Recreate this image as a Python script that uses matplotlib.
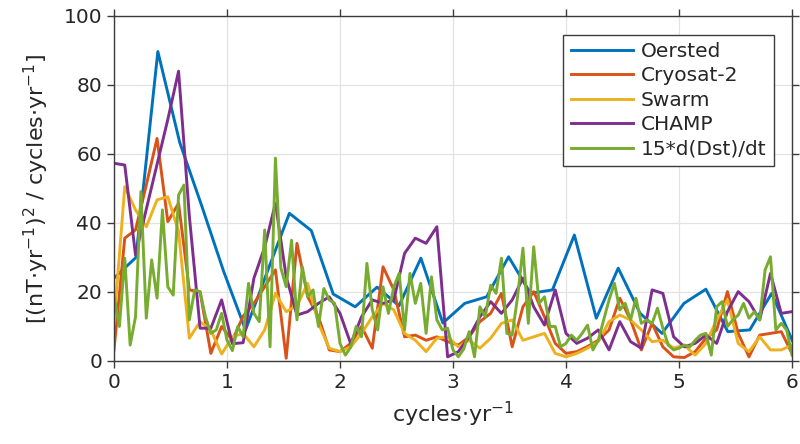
import numpy as np
import matplotlib
matplotlib.use("Agg")
import matplotlib.pyplot as plt

# power spectra of secular-variation residuals, read per mission
oersted_df = 0.194
oersted = [24, 30, 89.7, 63.3, 45, 26, 9, 26, 42.8, 37.8, 19.4, 15.7, 21.4, 16,
           29.8, 11, 16.7, 18.6, 30.2, 19.6, 20.6, 36.5, 12.4, 26.9, 13.8, 8,
           16.7, 20.8, 8.5, 9, 19.6, 5.1]

cryosat = [3.2, 35.6, 38, 51, 64.5, 40.4, 45.7, 20.6, 20, 2.2, 10, 6, 13, 16.7,
           21.5, 26.4, 0.8, 34.1, 18.6, 12.8, 3.2, 2.7, 5.1, 10, 3.7, 27.3, 20.6,
           7, 7.5, 6, 7, 5.6, 4.6, 7, 11.4, 13.8, 19.6, 4.1, 15.7, 20.1, 12.8,
           5.1, 2.2, 2.7, 4.2, 6, 9, 18.2, 11.9, 3.2, 10.9, 4.1, 1.2, 1, 2.7,
           6.6, 9, 20.1, 8, 1.2, 7.5, 8, 8.5, 2.2]

swarm = [10.9, 50.5, 43.8, 38.9, 46.7, 47.6, 37.5, 6.6, 11.4, 9, 2, 7, 8, 4.1,
         9, 19.6, 14.3, 16, 22.5, 10.9, 3.7, 2.7, 4.1, 8, 12.8, 16.7, 14.8, 8,
         6, 2.7, 6.6, 7, 4.1, 6, 3.7, 6.6, 10.9, 11.9, 6, 7, 8, 2.2, 1.2, 2.2,
         3.7, 5.6, 11.4, 13.3, 11.9, 9, 5.6, 6, 3.7, 4.6, 1.7, 5.1, 11.9, 17.7,
         5.1, 2.7, 7, 3.2, 3.2, 4.6]

champ = [57.3, 56.8, 30.7, 44, 57, 70, 84, 42, 9.5, 9.5, 17.7, 5, 5.3, 24, 33,
         45.7, 24.4, 13.3, 14.3, 16.7, 18.6, 13.8, 5, 12.8, 17.7, 16.7, 17.7,
         31.2, 35.6, 34.1, 38.9, 1.2, 2.7, 7, 12.8, 17.2, 13.8, 17.7, 24, 15.7,
         10.4, 20.6, 8, 5.1, 6.6, 9, 3.2, 11.4, 5.6, 3.7, 20.6, 19.6, 7, 4.1,
         5.1, 7.5, 5.1, 14.3, 20.1, 17.2, 11.9, 25.4, 13.8, 14.3]

# 15 * d(Dst)/dt
dst = [18.6, 10, 29.8, 4.6, 12.8, 49.1, 12.4, 29.3, 18.2, 43.8, 21.5, 19.1,
       48.1, 51, 11.9, 20.6, 20.1, 12.8, 8, 9, 13.8, 6, 3,
       10, 7, 22.5, 13.8, 11.4, 38, 4.1, 58.8, 27, 21.5,
       35, 11.9, 27.3, 18.6, 20.6, 10, 21, 17.7, 16.7, 5.1,
       1.7, 4, 10, 7, 28.3, 14.8, 9, 21.5, 13.8, 21.5,
       25.4, 9, 25.4, 16.7, 22.5, 8, 24.4, 11.9, 9, 9.5,
       3.2, 1.2, 3.5, 8.5, 1.2, 15.7, 12.8, 22, 19.6, 29.8,
       8, 7.5, 18.6, 32.7, 10.9, 33.1, 16.7, 18.6, 10, 10,
       4.1, 5.1, 7.5, 6, 8, 10.4, 3.2, 6, 11.9, 17.7,
       22.5, 14.8, 16.7, 11.9, 18.2, 10.9, 11.9, 10.9, 15.3, 9.5,
       4.6, 3.2, 3.7, 4.6, 4.1, 6, 7.5, 8, 1.7, 15.7,
       17.2, 10, 11.9, 13.3, 16.7, 12.4, 14.3, 11.9, 26.4, 30.2,
       9, 10.9, 9, 1.7]

f_oer = np.arange(len(oersted)) * oersted_df
f_sat = np.linspace(0, 6, len(champ))
f_dst = np.linspace(0, 6, len(dst))

series = [
    ("Oersted", f_oer, oersted, "#0072BD"),
    ("Cryosat-2", f_sat, cryosat, "#D95319"),
    ("Swarm", f_sat, swarm, "#EDB120"),
    ("CHAMP", f_sat, champ, "#7E2F8E"),
    ("15*d(Dst)/dt", f_dst, dst, "#77AC30"),
]

txt = "#262626"
plt.rcParams["font.family"] = ["DejaVu Sans"]

fig = plt.figure(figsize=(8, 4.44), dpi=100)
ax = fig.add_axes([0.1425, 0.187, 0.8475, 0.777])

for name, f, p, c in series:
    ax.plot(f, p, color=c, lw=2.1, label=name)

ax.set_xlim(0, 6)
ax.set_ylim(0, 100)
ax.set_xticks(range(7))
ax.set_yticks(range(0, 101, 20))
ax.grid(True, color="#e3e3e3", lw=0.9)
ax.set_axisbelow(True)

for s in ax.spines.values():
    s.set_color("#3c3c3c")
    s.set_linewidth(1.0)
ax.tick_params(direction="out", length=5, width=1, color="#3c3c3c",
               labelsize=14.5, labelcolor=txt, top=True, right=True)

ax.set_xlabel(r"cycles$\cdot$yr$^{\mathregular{-1}}$", fontsize=16, color=txt, labelpad=6)
ax.set_ylabel(r"[(nT$\cdot$yr$^{\mathregular{-1}}$)$^{\mathregular{2}}$ / cycles$\cdot$yr$^{\mathregular{-1}}$]",
              fontsize=16, color=txt, labelpad=9)

leg = ax.legend(loc="upper right", bbox_to_anchor=(0.973, 0.945), borderaxespad=0,
                fontsize=14.5, handlelength=3.1, handletextpad=0.4, labelspacing=0.27,
                fancybox=False, framealpha=1, edgecolor="#3c3c3c", borderpad=0.35)
leg.get_frame().set_linewidth(1.0)
for t in leg.get_texts():
    t.set_color(txt)

fig.savefig("out.png", dpi=100)
